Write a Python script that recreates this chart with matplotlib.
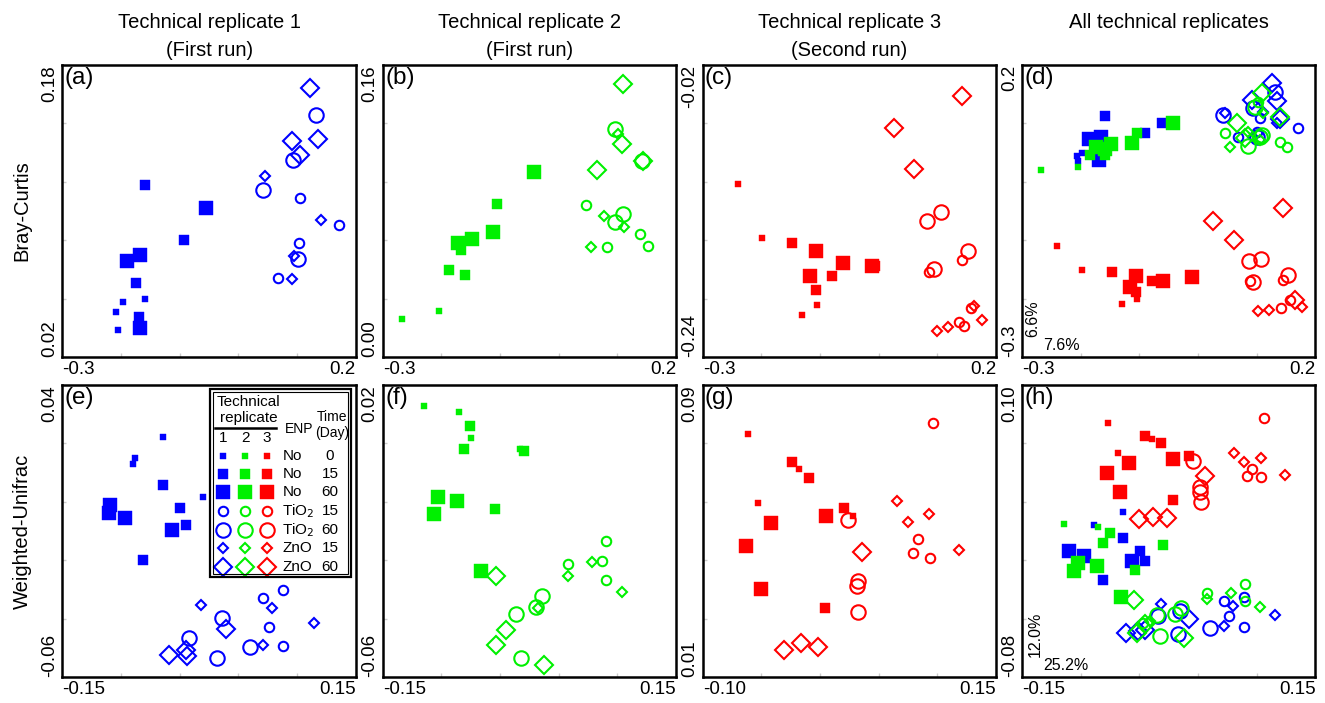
import matplotlib.pyplot as plt
import matplotlib as mpl
import numpy as np
from matplotlib.patches import Rectangle

mpl.rcParams['font.family'] = ['Liberation Sans', 'DejaVu Sans']

# ---- data ---------------------------------------------------------------
# group codes: N = no ENP, T = TiO2, Z = ZnO, number = day
A_X = [-0.158, -0.196, -0.208, -0.205,
       -0.159, -0.092, -0.175, -0.1695,
       -0.0555, -0.168, -0.189, -0.168,
       0.106, 0.1725, 0.103, 0.067,
       0.133, 0.093, 0.043, 0.102,
       0.046, 0.141, 0.0956, 0.0916,
       0.123, 0.0916, 0.1355, 0.106]
A_Y = [0.052, 0.050, 0.0445, 0.035,
       0.114, 0.084, 0.0605, 0.042,
       0.1016, 0.076, 0.0724, 0.036,
       0.107, 0.0924, 0.0824, 0.0633,
       0.1526, 0.128, 0.1116, 0.0737,
       0.1193, 0.0952, 0.0751, 0.0629,
       0.1676, 0.1386, 0.1393, 0.1308]
A_G = ['N0'] * 4 + ['N15'] * 4 + ['N60'] * 4 + ['T15'] * 4 + ['T60'] * 4 + ['Z15'] * 4 + ['Z60'] * 4

B_X = [-0.2675, -0.2048,
       -0.1877, -0.159, -0.1666, -0.105,
       -0.1718, -0.1478, -0.1119, -0.0424,
       0.046, 0.1389, 0.1526, 0.083,
       0.0956, 0.1418, 0.1087, 0.0956,
       0.1013, 0.0773, 0.1115, 0.0545,
       0.1087, 0.107, 0.066, 0.143]
B_Y = [0.0208, 0.025,
       0.0475, 0.045, 0.0588, 0.0839,
       0.0624, 0.0646, 0.0683, 0.1016,
       0.083, 0.0673, 0.0606, 0.060,
       0.125, 0.1075, 0.0783, 0.0739,
       0.1222, 0.077, 0.071, 0.060,
       0.1494, 0.1166, 0.1025, 0.1075]
B_G = ['N0'] * 2 + ['N15'] * 4 + ['N60'] * 4 + ['T15'] * 4 + ['T60'] * 4 + ['Z15'] * 4 + ['Z60'] * 4

C_X = [-0.2404, -0.1995, -0.1057, -0.1313,
       -0.1472, -0.0802, -0.1074, -0.0063,
       -0.1069, -0.0603, -0.1171, -0.0109,
       0.1413, 0.0862, 0.1572, 0.1374, 0.1453,
       0.0817, 0.1056, 0.1527, 0.0948,
       0.1624, 0.1754, 0.1186, 0.0999,
       0.1425, 0.026, 0.0607]
C_Y = [-0.1098, -0.150, -0.2006, -0.2082,
       -0.1542, -0.1788, -0.1894, -0.1718,
       -0.160, -0.1693, -0.1793, -0.1713,
       -0.1668, -0.1763, -0.2032, -0.2139, -0.2170,
       -0.1374, -0.1309, -0.160, -0.1738,
       -0.2019, -0.2124, -0.2177, -0.2207,
       -0.0433, -0.0677, -0.0985]
C_G = ['N0'] * 4 + ['N15'] * 4 + ['N60'] * 4 + ['T15'] * 5 + ['T60'] * 4 + ['Z15'] * 4 + ['Z60'] * 3

D_X = [-0.2061, -0.2044, -0.197,
       -0.1589, -0.0906, -0.0622,
       -0.1862, -0.1646, -0.1686,
       0.1711, 0.0687, 0.1057, 0.1,
       0.1313, 0.0943, 0.1, 0.0431,
       0.046, 0.1114, 0.0943, 0.1341,
       0.1256, 0.1341, 0.0915, 0.1398,
       -0.267, -0.2044,
       -0.1845, -0.1048, -0.1589,
       -0.1731, -0.1589, -0.1475, -0.1117, -0.0434,
       0.046, 0.1398, 0.1512, 0.1029,
       0.0972, 0.1057, 0.0858, 0.1085,
       0.0545, 0.1114, 0.1057, 0.0858,
       0.1085, 0.1398, 0.0659, 0.0801,
       -0.2397, -0.1976, -0.1304, -0.1048,
       -0.1458, -0.1060, -0.0792,
       -0.1065, -0.1162, -0.0593, -0.0098,
       0.1444, 0.0886, 0.1415, 0.1569,
       0.0875, 0.1074, 0.1529, 0.0943,
       0.1017, 0.1216, 0.1768,
       0.1444, 0.0249, 0.0619, 0.1654]
D_Y = [0.0433, 0.0358, 0.05,
       0.1134, 0.0832, 0.1014,
       0.0729, 0.0763, 0.0376,
       0.0917, 0.0763, 0.1088, 0.086,
       0.1544, 0.1259, 0.0763, 0.1145,
       0.1174, 0.1202, 0.0775, 0.1003,
       0.1687, 0.139, 0.1402, 0.1071,
       0.0205, 0.025,
       0.0461, 0.0832, 0.0461,
       0.0592, 0.0558, 0.0649, 0.0672, 0.1014,
       0.0843, 0.0689, 0.0592, 0.1373,
       0.1288, 0.0763, 0.0615, 0.08,
       0.0592, 0.1174, 0.072, 0.086,
       0.1516, 0.1105, 0.1003, 0.0746,
       -0.1107, -0.1506, -0.2093, -0.2007,
       -0.1551, -0.1893, -0.1705,
       -0.1620, -0.1808, -0.1705, -0.1637,
       -0.1677, -0.1694, -0.2161, -0.203,
       -0.1363, -0.1323, -0.1591, -0.1722,
       -0.2218, -0.2201, -0.2144,
       -0.0451, -0.0679, -0.0993, -0.2019]
D_G = (['N0'] * 3 + ['N15'] * 3 + ['N60'] * 3 + ['T15'] * 4 + ['T60'] * 4 + ['Z15'] * 4 + ['Z60'] * 4
       + ['N0'] * 2 + ['N15'] * 3 + ['N60'] * 5 + ['T15'] * 4 + ['T60'] * 4 + ['Z15'] * 4 + ['Z60'] * 4
       + ['N0'] * 4 + ['N15'] * 3 + ['N60'] * 4 + ['T15'] * 4 + ['T60'] * 4 + ['Z15'] * 3 + ['Z60'] * 4)
D_R = [1] * 25 + [2] * 26 + [3] * 26

E_X = [-0.0466, -0.0754, -0.0778, -0.0059,
       -0.0473, -0.0297, -0.0239, -0.0669,
       -0.1009, -0.1016, -0.0856, -0.0375,
       0.0754, 0.0558, 0.0619, 0.0761,
       0.0134, -0.0205, 0.0422, 0.0087,
       -0.0083, 0.0642, 0.1076, 0.0551,
       0.0178, -0.0408, -0.0239, -0.0222]
E_Y = [0.0221, 0.0149, 0.013, 0.0018,
       0.0058, -0.002, -0.0079, -0.0199,
       -0.001, -0.0037, -0.0056, -0.0096,
       -0.0301, -0.033, -0.0429, -0.0493,
       -0.0398, -0.0466, -0.0497, -0.0535,
       -0.0352, -0.0364, -0.0415, -0.0489,
       -0.0436, -0.0523, -0.0506, -0.0527]
E_G = ['N0'] * 4 + ['N15'] * 4 + ['N60'] * 4 + ['T15'] * 4 + ['T60'] * 4 + ['Z15'] * 4 + ['Z60'] * 4

F_X = [-0.1073, -0.0724, -0.0594, -0.0098,
       -0.0604, -0.0672, -0.0057, -0.0347,
       -0.0936, -0.0741, -0.0973, -0.0494,
       0.0781, 0.0398, 0.074, 0.0781,
       0.0125, 0.007, -0.0135, -0.0091,
       0.0398, 0.0644, 0.0942, 0.009,
       -0.0337, -0.0235, -0.0337, 0.0148]
F_Y = [0.0143, 0.0127, 0.0054, 0.0025,
       0.0088, 0.0024, 0.0018, -0.0139,
       -0.0108, -0.0117, -0.0154, -0.0311,
       -0.0227, -0.029, -0.0282, -0.0335,
       -0.0377, -0.0409, -0.0427, -0.0548,
       -0.0322, -0.0286, -0.0368, -0.0411,
       -0.0324, -0.047, -0.0511, -0.0566]
F_G = ['N0'] * 4 + ['N15'] * 4 + ['N60'] * 4 + ['T15'] * 4 + ['T60'] * 4 + ['Z15'] * 4 + ['Z60'] * 4

G_X = [-0.0617, -0.0176, -0.0526, 0.0278,
       -0.0242, -0.0091, 0.0204, 0.0042,
       0.0048, -0.0418, -0.0634, -0.0506,
       0.0965, 0.0837, 0.0795, 0.0937,
       0.0241, 0.0321, 0.0312, 0.0326,
       0.0659, 0.0752, 0.0931, 0.1187,
       0.0355, -0.0304, -0.0162, -0.002]
G_Y = [0.0765, 0.067, 0.0578, 0.054,
       0.069, 0.0646, 0.0564, 0.0289,
       0.0542, 0.0522, 0.046, 0.0342,
       0.0797, 0.0478, 0.0441, 0.0426,
       0.0529, 0.0364, 0.035, 0.0277,
       0.0581, 0.0524, 0.0547, 0.0447,
       0.0442, 0.0175, 0.0193, 0.0182]
G_G = ['N0'] * 4 + ['N15'] * 4 + ['N60'] * 4 + ['T15'] * 4 + ['T60'] * 4 + ['Z15'] * 4 + ['Z60'] * 4

# panel (h): replicate 3, then 1, then 2 (drawing order)
H_X = [-0.0618, -0.0523, -0.0167, 0.0219,
       -0.0243, -0.0082, 0.0209, 0.0041,
       -0.0407, -0.0629, -0.0499, 0.0048,
       0.0971, 0.0851, 0.08, 0.0947,
       0.0253, 0.0321, 0.0321, 0.0328,
       0.0663, 0.0772, 0.0947, 0.1193,
       0.0366, -0.03, -0.0157, -0.002,
       -0.0465, -0.0762,
       -0.0465, -0.0676, -0.0243, -0.0294,
       -0.1022, -0.0864, -0.0379,
       0.056, 0.0765, 0.0612, 0.0772,
       0.0092, 0.0424, 0.0116, -0.0106,
       -0.0079, 0.0656, 0.056, 0.109,
       -0.0437, -0.0243, 0.0212, -0.0311,
       -0.1073, -0.0721, -0.0072,
       -0.0601, -0.0670, -0.0055, -0.0345,
       -0.0926, -0.097, -0.0738, -0.0489,
       0.0396, 0.0783, 0.0783, -0.026,
       -0.0123, 0.0065, 0.0123, -0.0089,
       0.039, 0.0636, 0.0936, -0.0191,
       -0.0352, -0.0328, -0.0243, 0.0157]
H_Y = [0.0768, 0.0579, 0.0668, 0.0569,
       0.0686, 0.0645, 0.0563, 0.0288,
       0.0522, 0.0456, 0.0339, 0.0542,
       0.0799, 0.0481, 0.044, 0.043,
       0.0532, 0.0374, 0.0343, 0.0278,
       0.0579, 0.0528, 0.0549, 0.0446,
       0.044, 0.0173, 0.0185, 0.0179,
       0.022, 0.0134,
       0.0056, -0.02, -0.0083, -0.0026,
       -0.0026, -0.0057, -0.0088,
       -0.0334, -0.0307, -0.0426, -0.0494,
       -0.0535, -0.0498, -0.0395, -0.0426,
       -0.035, -0.0365, -0.0488, -0.042,
       -0.0529, -0.0512, -0.0443, -0.0518,
       0.0142, 0.0124, 0.0015,
       0.0087, 0.0025, 0.0015, -0.0143,
       -0.0098, -0.0149, -0.0118, -0.0309,
       -0.0283, -0.0225, -0.0334, -0.0467,
       -0.0416, -0.041, -0.0375, -0.0545,
       -0.0319, -0.0283, -0.0369, -0.0456,
       -0.0324, -0.0529, -0.0473, -0.056]
H_G = (['N0'] * 4 + ['N15'] * 4 + ['N60'] * 4 + ['T15'] * 4 + ['T60'] * 4 + ['Z15'] * 4 + ['Z60'] * 4
       + ['N0'] * 2 + ['N15'] * 4 + ['N60'] * 3 + ['T15'] * 4 + ['T60'] * 4 + ['Z15'] * 4 + ['Z60'] * 4
       + ['N0'] * 3 + ['N15'] * 4 + ['N60'] * 4 + ['T15'] * 4 + ['T60'] * 4 + ['Z15'] * 4 + ['Z60'] * 4)
H_R = [3] * 28 + [1] * 25 + [2] * 27

TITLES = ['Technical replicate 1\n(First run)', 'Technical replicate 2\n(First run)',
          'Technical replicate 3\n(Second run)', 'All technical replicates']
ROW_LABELS = ['Bray-Curtis', 'Weighted-Unifrac']
PCT_D = ['6.6%', '7.6%']
PCT_H = ['12.0%', '25.2%']

LEG_GROUPS = ['N0', 'N15', 'N60', 'T15', 'T60', 'Z15', 'Z60']
LEG_ENP = ['No', 'No', 'No', 'TiO$_2$', 'TiO$_2$', 'ZnO', 'ZnO']
LEG_DAY = ['0', '15', '60', '15', '60', '15', '60']

# ---- styles ---------------------------------------------------------------
COLORS = {1: '#0000ff', 2: '#00f000', 3: '#ff0000'}
STYLE = {'N0': ('s', 4.8, True), 'N15': ('s', 7.4, True), 'N60': ('s', 10.6, True),
         'T15': ('o', 6.8, False), 'T60': ('o', 10.4, False),
         'Z15': ('D', 5.4, False), 'Z60': ('D', 9.3, False)}


def mark(ax, x, y, g, r, **kw):
    m, s, filled = STYLE[g]
    c = COLORS[r]
    if filled:
        ax.plot(x, y, m, ms=s, mfc=c, mec=c, mew=0.3, **kw)
    else:
        ax.plot(x, y, m, ms=s, mfc='none', mec=c, mew=1.5, **kw)


def draw(ax, xs, ys, gs, rs):
    for x, y, g, r in zip(xs, ys, gs, rs):
        mark(ax, x, y, g, r)


def setup(ax, xlim, ylim, xlab, ylab, tag):
    ax.set_xlim(xlim)
    ax.set_ylim(ylim)
    ax.set_xticks(xlim, xlab)
    ax.set_yticks(ylim, ylab)
    xt = ax.get_xticklabels()
    xt[0].set_ha('left')
    xt[1].set_ha('right')
    yt = ax.get_yticklabels()
    for t in yt:
        t.set_rotation(90)
        t.set_ha('right')
    yt[0].set_va('bottom')
    yt[1].set_va('top')
    ax.tick_params(which='major', length=0, labelsize=13.5, pad=3)
    ax.set_xticks(np.linspace(xlim[0], xlim[1], 6)[1:-1], minor=True)
    ax.set_yticks(np.linspace(ylim[0], ylim[1], 6)[1:-1], minor=True)
    ax.tick_params(which='minor', length=3, width=1, color='#cccccc', direction='in')
    for sp in ax.spines.values():
        sp.set_linewidth(1.8)
    ax.text(0.008, 0.993, tag, transform=ax.transAxes, ha='left', va='top', fontsize=17.5)


fig = plt.figure(figsize=(13.25, 7.03), dpi=100)
lefts = [0.0469, 0.2888, 0.5303, 0.7713]
bottoms = [0.4922, 0.0370]
W, H = 0.2215, 0.4154
axs = [[fig.add_axes([l, b, W, H]) for l in lefts] for b in bottoms]

ax = axs[0][0]
draw(ax, A_X, A_Y, A_G, [1] * len(A_X))
setup(ax, (-0.3, 0.2), (0.02, 0.18), ['-0.3', '0.2'], ['0.02', '0.18'], '(a)')

ax = axs[0][1]
draw(ax, B_X, B_Y, B_G, [2] * len(B_X))
setup(ax, (-0.3, 0.2), (0.00, 0.16), ['-0.3', '0.2'], ['0.00', '0.16'], '(b)')

ax = axs[0][2]
draw(ax, C_X, C_Y, C_G, [3] * len(C_X))
setup(ax, (-0.3, 0.2), (-0.24, -0.02), ['-0.3', '0.2'], ['-0.24', '-0.02'], '(c)')

ax = axs[0][3]
draw(ax, D_X, D_Y, D_G, D_R)
setup(ax, (-0.3, 0.2), (-0.3, 0.2), ['-0.3', '0.2'], ['-0.3', '0.2'], '(d)')
ax.text(0.038, 0.068, PCT_D[0], transform=ax.transAxes, rotation=90, ha='center', va='bottom', fontsize=11.5)
ax.text(0.072, 0.038, PCT_D[1], transform=ax.transAxes, ha='left', va='center', fontsize=11.5)

ax = axs[1][0]
draw(ax, E_X, E_Y, E_G, [1] * len(E_X))
setup(ax, (-0.15, 0.15), (-0.06, 0.04), ['-0.15', '0.15'], ['-0.06', '0.04'], '(e)')

ax = axs[1][1]
draw(ax, F_X, F_Y, F_G, [2] * len(F_X))
setup(ax, (-0.15, 0.15), (-0.06, 0.02), ['-0.15', '0.15'], ['-0.06', '0.02'], '(f)')

ax = axs[1][2]
draw(ax, G_X, G_Y, G_G, [3] * len(G_X))
setup(ax, (-0.10, 0.15), (0.01, 0.09), ['-0.10', '0.15'], ['0.01', '0.09'], '(g)')

ax = axs[1][3]
draw(ax, H_X, H_Y, H_G, H_R)
setup(ax, (-0.15, 0.15), (-0.08, 0.10), ['-0.15', '0.15'], ['-0.08', '0.10'], '(h)')
ax.text(0.044, 0.068, PCT_H[0], transform=ax.transAxes, rotation=90, ha='center', va='bottom', fontsize=11.5)
ax.text(0.072, 0.041, PCT_H[1], transform=ax.transAxes, ha='left', va='center', fontsize=11.5)

# ---- legend in panel (e) -----------------------------------------------
ax = axs[1][0]
tr = ax.transAxes
ax.add_patch(Rectangle((0.505, 0.343), 0.478, 0.643, transform=tr, fill=False,
                       lw=1.6, ec='black', zorder=5))
ax.add_patch(Rectangle((0.513, 0.353), 0.462, 0.623, transform=tr, fill=False,
                       lw=0.8, ec='black', zorder=5))
lf = 11
hf = 10
ax.text(0.635, 0.943, 'Technical', transform=tr, ha='center', va='center', fontsize=lf)
ax.text(0.635, 0.888, 'replicate', transform=tr, ha='center', va='center', fontsize=lf)
ax.plot([0.52, 0.729], [0.852, 0.852], transform=tr, color='black', lw=1.8, clip_on=False)
cols = [0.548, 0.624, 0.698]
for i, cx in enumerate(cols):
    ax.text(cx, 0.817, str(i + 1), transform=tr, ha='center', va='center', fontsize=lf)
ax.text(0.806, 0.849, 'ENP', transform=tr, ha='center', va='center', fontsize=hf)
ax.text(0.921, 0.891, 'Time', transform=tr, ha='center', va='center', fontsize=hf)
ax.text(0.921, 0.835, '(Day)', transform=tr, ha='center', va='center', fontsize=hf)
rows = [0.757, 0.694, 0.632, 0.567, 0.503, 0.440, 0.378]
for g, enp, day, ry in zip(LEG_GROUPS, LEG_ENP, LEG_DAY, rows):
    for i, cx in enumerate(cols):
        mark(ax, cx, ry, g, i + 1, transform=tr, clip_on=False)
    ax.text(0.750, ry, enp, transform=tr, ha='left', va='center', fontsize=lf)
    ax.text(0.913, ry, day, transform=tr, ha='center', va='center', fontsize=lf)

# ---- titles and row labels ------------------------------------------------
centers = [209.2, 529.2, 849.2, 1168.5]
for cx, t in zip(centers, TITLES):
    lines = t.split('\n')
    fig.text(cx / 1325, 1 - 22 / 703, lines[0], ha='center', va='center', fontsize=14.5)
    if len(lines) > 1:
        fig.text(cx / 1325, 1 - 50 / 703, lines[1], ha='center', va='center', fontsize=14.5)

fig.text(22 / 1325, 1 - 211 / 703, ROW_LABELS[0], rotation=90, ha='center', va='center', fontsize=14.5)
fig.text(22 / 1325, 1 - 531 / 703, ROW_LABELS[1], rotation=90, ha='center', va='center', fontsize=14.5)

fig.savefig('out.png', dpi=100)
